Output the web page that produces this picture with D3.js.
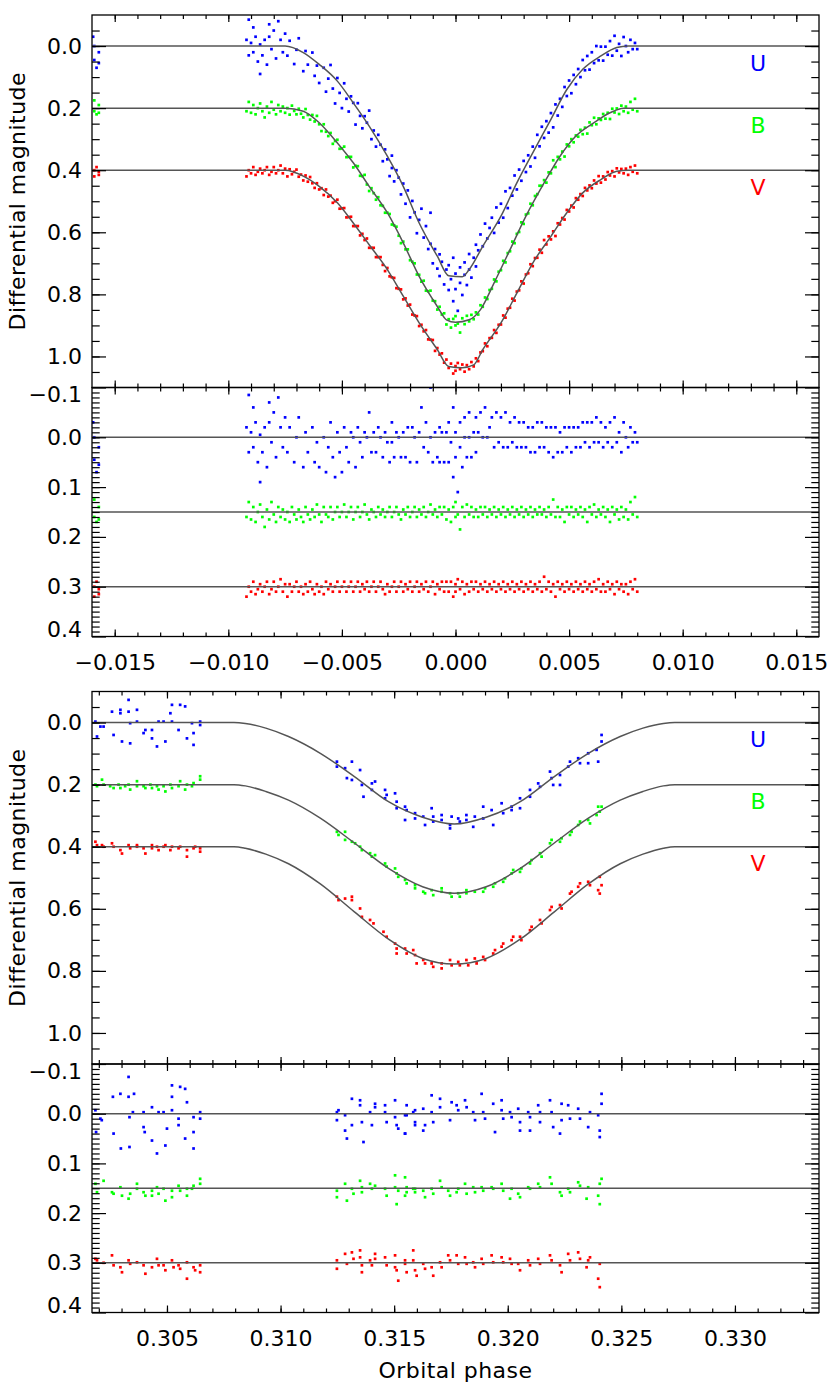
<!DOCTYPE html>
<html>
<head>
<meta charset="utf-8">
<script src="https://cdn.jsdelivr.net/npm/d3@7"></script>
<style>
  body { margin: 0; background: #fff; }
  text { font-family: "DejaVu Sans", sans-serif; }
</style>
</head>
<body>
<svg id="chart" width="830" height="1382"></svg>
<script>
// bands, colours and the offsets used to stack them
const bandNames = ["U", "B", "V"];
const bandColors = ["#0000ff", "#00ff00", "#ff0000"];
const lightOffsets = [0, 0.2, 0.4];
const residOffsets = [0, 0.15, 0.3];

// tick values
const topPhaseMajor = [-0.015, -0.010, -0.005, 0.000, 0.005, 0.010, 0.015];
const botPhaseMajor = [0.305, 0.310, 0.315, 0.320, 0.325, 0.330];
const magMajor = [0.0, 0.2, 0.4, 0.6, 0.8, 1.0];
const residMajor = [-0.1, 0.0, 0.1, 0.2, 0.3, 0.4];

// model light curves: [phase, mag]
const topModelU = [[-0.016,0],[-0.0075,0],[-0.0067,0.021],[-0.006,0.059],[-0.0052,0.113],[-0.0045,0.183],[-0.0038,0.258],[-0.003,0.355],[-0.0023,0.452],[-0.0016,0.57],[-0.0008,0.677],[-0.0003,0.74],[0.0003,0.743],[0.0006,0.72],[0.0012,0.645],[0.002,0.548],[0.0027,0.441],[0.0034,0.344],[0.0042,0.236],[0.0049,0.14],[0.0056,0.075],[0.0064,0.032],[0.0071,0.005],[0.0076,0],[0.016,0]];
const topModelB = [[-0.016,0.2],[-0.0075,0.2],[-0.0067,0.21],[-0.006,0.247],[-0.0052,0.312],[-0.0045,0.376],[-0.0038,0.452],[-0.003,0.537],[-0.0023,0.634],[-0.0016,0.742],[-0.0008,0.839],[-0.0004,0.882],[0,0.89],[0.0006,0.882],[0.0011,0.849],[0.0017,0.763],[0.0024,0.656],[0.0031,0.548],[0.0039,0.441],[0.0046,0.355],[0.0053,0.29],[0.0061,0.247],[0.0068,0.215],[0.0074,0.2],[0.016,0.2]];
const topModelV = [[-0.016,0.4],[-0.0075,0.4],[-0.0067,0.419],[-0.006,0.452],[-0.0052,0.505],[-0.0045,0.57],[-0.0038,0.64],[-0.003,0.72],[-0.0023,0.806],[-0.0016,0.892],[-0.0008,0.978],[-0.0003,1.032],[0.0003,1.036],[0.0008,1.027],[0.0012,0.978],[0.002,0.892],[0.0027,0.796],[0.0034,0.699],[0.0042,0.613],[0.0049,0.537],[0.0056,0.473],[0.0064,0.43],[0.0071,0.403],[0.0076,0.4],[0.016,0.4]];
const botModelU = [[0.3017,0],[0.30795,0],[0.30845,0.003],[0.30935,0.018],[0.31035,0.045],[0.31175,0.099],[0.31325,0.174],[0.31475,0.255],[0.31625,0.305],[0.31765,0.327],[0.31905,0.305],[0.32055,0.255],[0.32205,0.174],[0.32355,0.099],[0.32495,0.045],[0.32595,0.018],[0.32685,0.003],[0.32735,0],[0.3337,0]];
const botModelB = [[0.3017,0.2],[0.30795,0.2],[0.30845,0.204],[0.30935,0.222],[0.31035,0.25],[0.31175,0.308],[0.31325,0.388],[0.31475,0.47],[0.31625,0.529],[0.31765,0.55],[0.31905,0.529],[0.32055,0.47],[0.32205,0.388],[0.32355,0.308],[0.32495,0.25],[0.32595,0.222],[0.32685,0.204],[0.32735,0.2],[0.3337,0.2]];
const botModelV = [[0.3017,0.4],[0.30795,0.4],[0.30845,0.405],[0.30935,0.424],[0.31035,0.455],[0.31175,0.52],[0.31325,0.61],[0.31475,0.698],[0.31625,0.76],[0.31765,0.778],[0.31905,0.76],[0.32055,0.698],[0.32205,0.61],[0.32355,0.52],[0.32495,0.455],[0.32595,0.424],[0.32685,0.405],[0.32735,0.4],[0.3337,0.4]];

// primary eclipse observations: [phase, mag, residual]
const topU = [[-0.01595,-0.03,-0.03],[-0.0159,0,0],[-0.0159,0.045,0.045],[-0.0158,0.07,0.07],[-0.0157,0.02,0.02],[-0.0157,0.055,0.055],
[-0.0092,-0.02,-0.02],[-0.0091,0.03,0.03],[-0.0091,-0.085,-0.085],[-0.009,-0.01,-0.01],[-0.0089,0.02,0.02],[-0.0089,-0.06,-0.06],[-0.0088,-0.03,-0.03],[-0.0087,0.05,0.05],[-0.0086,-0.005,-0.005],[-0.0086,0.09,0.09],[-0.0085,0.03,0.03],[-0.0084,-0.02,-0.02],[-0.0083,0.06,0.06],[-0.0082,-0.07,-0.07],[-0.0082,-0.03,-0.03],[-0.0081,0.01,0.01],[-0.008,-0.05,-0.05],[-0.0079,0.04,0.04],[-0.0078,-0.08,-0.08],[-0.0077,-0.02,-0.02],[-0.0076,0.02,0.02],[-0.0075,-0.04,-0.04],
[-0.0074,0.031,0.03],[-0.0073,-0.017,-0.02],[-0.0071,0.058,0.05],[-0.007,0.012,0],[-0.0069,-0.025,-0.04],[-0.0067,0.081,0.06],[-0.0066,0.016,-0.01],[-0.0065,0.06,0.03],[-0.0063,0.021,-0.02],[-0.0062,0.096,0.05],[-0.0061,0.063,0.01],[-0.006,0.119,0.06],[-0.0058,0.07,0],[-0.0057,0.147,0.07],[-0.0056,0.105,0.02],[-0.0055,0.061,-0.03],[-0.0054,0.137,0.04],[-0.0053,0.185,0.08],[-0.0052,0.103,-0.01],[-0.0051,0.151,0.03],[-0.005,0.2,0.07],[-0.0049,0.12,-0.02],[-0.0048,0.17,0.02],[-0.0047,0.211,0.05],[-0.0046,0.162,-0.01],[-0.0045,0.183,0],[-0.0044,0.253,0.06],[-0.0043,0.184,-0.02],[-0.0042,0.225,0.01],[-0.0041,0.265,0.04],[-0.004,0.226,-0.01],[-0.0039,0.247,0],[-0.0038,0.208,-0.05],[-0.0037,0.3,0.03],[-0.0036,0.272,-0.01],[-0.0035,0.324,0.03],[-0.0034,0.286,-0.02],[-0.0033,0.318,0],[-0.0032,0.371,0.04],[-0.0031,0.333,-0.01],[-0.003,0.365,0.01],[-0.0029,0.419,0.05],[-0.0028,0.353,-0.03],[-0.0028,0.393,0.01],[-0.0027,0.436,0.04],[-0.0026,0.4,-0.01],[-0.0025,0.424,0],[-0.0024,0.478,0.04],[-0.0023,0.443,-0.01],[-0.0022,0.508,0.04],[-0.0021,0.465,-0.02],[-0.002,0.552,0.05],[-0.0019,0.499,-0.02],[-0.0018,0.536,0],[-0.0017,0.603,0.05],[-0.0016,0.56,-0.01],[-0.0015,0.524,-0.06],[-0.0014,0.617,0.02],[-0.0013,0.58,-0.03],[-0.0012,0.654,0.03],[-0.0011,0.537,-0.1],[-0.0011,0.637,0],[-0.001,0.7,0.05],[-0.0009,0.654,-0.01],[-0.0008,0.717,0.04],[-0.0007,0.671,-0.02],[-0.0007,0.741,0.05],[-0.0006,0.695,-0.01],[-0.0005,0.768,0.05],[-0.0004,0.72,-0.01],[-0.0003,0.786,0.05],[-0.0003,0.706,-0.03],[-0.0002,0.751,0.01],[-0.0001,0.822,0.08],[-0.0001,0.682,-0.06],[0,0.733,-0.01],[0,0.783,0.04],[0.0001,0.853,0.11],[0.0002,0.713,-0.03],[0.0002,0.763,0.02],[0.0003,0.802,0.06],[0.0004,0.697,-0.04],[0.0004,0.737,0],[0.0005,0.77,0.04],[0.0006,0.67,-0.05],[0.0006,0.72,0],[0.0007,0.746,0.04],[0.0008,0.682,-0.01],[0.0009,0.64,-0.04],[0.0009,0.71,0.03],[0.001,0.658,-0.01],[0.0011,0.607,-0.05],[0.0012,0.645,0],[0.0013,0.572,-0.06],[0.0014,0.62,0],[0.0015,0.586,-0.02],[0.0016,0.553,-0.04],[0.0017,0.602,0.02],[0.0018,0.52,-0.05],[0.0019,0.569,0.01],[0.002,0.508,-0.04],[0.0021,0.553,0.02],[0.0022,0.468,-0.05],[0.0023,0.522,0.02],[0.0024,0.457,-0.03],[0.0025,0.482,0.01],[0.0026,0.417,-0.04],[0.0027,0.462,0.02],[0.0028,0.398,-0.03],[0.0029,0.434,0.02],[0.003,0.37,-0.03],[0.0031,0.406,0.02],[0.0032,0.352,-0.02],[0.0033,0.388,0.03],[0.0034,0.324,-0.02],[0.0035,0.36,0.03],[0.0036,0.286,-0.03],[0.0037,0.323,0.02],[0.0038,0.26,-0.03],[0.0039,0.296,0.02],[0.004,0.242,-0.02],[0.0041,0.279,0.03],[0.0042,0.216,-0.02],[0.0043,0.262,0.04],[0.0044,0.188,-0.02],[0.0045,0.224,0.03],[0.0046,0.17,-0.01],[0.0047,0.196,0.03],[0.0048,0.132,-0.02],[0.0049,0.161,0.02],[0.005,0.111,-0.02],[0.0051,0.152,0.03],[0.0052,0.093,-0.02],[0.0053,0.123,0.02],[0.0054,0.074,-0.02],[0.0055,0.1,0.02],[0.0056,0.045,-0.03],[0.0057,0.078,0.01],[0.0058,0.032,-0.03],[0.0059,0.076,0.02],[0.006,0.02,-0.03],[0.0061,0.055,0.01],[0.0062,0,-0.04],[0.0063,0.046,0.01],[0.0064,0.002,-0.03],[0.0065,0.047,0.02],[0.0066,0.002,-0.02],[0.0067,0.028,0.01],[0.0068,-0.016,-0.03],[0.0069,0.031,0.02],[0.007,-0.033,-0.04],[0.0071,0.015,0.01],[0.0072,-0.007,-0.01],[0.0073,0.032,0.03],[0.0074,-0.029,-0.03],[0.0075,0,0],[0.0076,0.02,0.02],[0.0077,-0.02,-0.02],[0.0078,0.01,0.01],[0.0079,-0.01,-0.01],[0.008,0.01,0.01]];

const topB = [[-0.0159,0.175,-0.025],[-0.0159,0.21,0.01],[-0.0158,0.22,0.02],[-0.0157,0.19,-0.01],[-0.0157,0.215,0.015],
[-0.0092,0.21,0.01],[-0.0091,0.18,-0.02],[-0.009,0.215,0.015],[-0.0089,0.19,-0.01],[-0.0088,0.22,0.02],[-0.0087,0.2,0],[-0.0086,0.185,-0.015],[-0.0085,0.21,0.01],[-0.0084,0.23,0.03],[-0.0083,0.195,-0.005],[-0.0082,0.215,0.015],[-0.0081,0.18,-0.02],[-0.008,0.205,0.005],[-0.0079,0.22,0.02],[-0.0078,0.19,-0.01],[-0.0077,0.21,0.01],[-0.0076,0.195,-0.005],[-0.0075,0.215,0.015],[-0.0074,0.2,0],[-0.0073,0.221,0.02],[-0.0072,0.192,-0.01],[-0.0071,0.209,0.005],[-0.007,0.22,0.015],[-0.0069,0.202,-0.005],[-0.0068,0.218,0.01],[-0.0067,0.23,0.02],[-0.0066,0.203,-0.01],[-0.0065,0.222,0.005],[-0.0064,0.237,0.015],[-0.0063,0.222,-0.005],[-0.0062,0.243,0.01],[-0.0061,0.225,-0.015],[-0.006,0.252,0.005],[-0.0059,0.274,0.02],[-0.0058,0.252,-0.01],[-0.0057,0.276,0.005],[-0.0056,0.29,0.01],[-0.0055,0.28,-0.01],[-0.0054,0.315,0.015],[-0.0053,0.306,0],[-0.0052,0.302,-0.01],[-0.0051,0.331,0.01],[-0.005,0.33,0],[-0.0049,0.324,-0.015],[-0.0048,0.358,0.01],[-0.0047,0.357,0],[-0.0046,0.357,-0.01],[-0.0045,0.391,0.015],[-0.0044,0.386,0],[-0.0043,0.387,-0.01],[-0.0042,0.418,0.01],[-0.0041,0.419,0],[-0.004,0.415,-0.015],[-0.0039,0.446,0.005],[-0.0038,0.467,0.015],[-0.0037,0.458,-0.005],[-0.0036,0.474,0],[-0.0035,0.495,0.01],[-0.0034,0.487,-0.01],[-0.0033,0.513,0.005],[-0.0032,0.515,-0.005],[-0.0031,0.537,0.01],[-0.003,0.537,0],[-0.0029,0.541,-0.01],[-0.0028,0.575,0.01],[-0.0027,0.578,0],[-0.0026,0.582,-0.01],[-0.0025,0.611,0.005],[-0.0024,0.635,0.015],[-0.0023,0.63,-0.005],[-0.0022,0.655,0.005],[-0.0021,0.655,-0.01],[-0.002,0.69,0.01],[-0.0019,0.695,0],[-0.0018,0.7,-0.01],[-0.0017,0.736,0.01],[-0.0016,0.737,-0.005],[-0.0015,0.759,0.005],[-0.0014,0.756,-0.01],[-0.0013,0.788,0.01],[-0.0012,0.79,0],[-0.0011,0.788,-0.015],[-0.001,0.82,0.005],[-0.0009,0.822,-0.005],[-0.0008,0.849,0.01],[-0.0007,0.84,-0.01],[-0.0006,0.865,0.005],[-0.0005,0.861,-0.01],[-0.0004,0.897,0.015],[-0.0003,0.88,-0.005],[-0.0002,0.907,0.02],[-0.0001,0.879,-0.01],[0,0.9,0.01],[0,0.87,-0.02],[0.0001,0.894,0.005],[0.0002,0.923,0.035],[0.0003,0.877,-0.01],[0.0004,0.896,0.01],[0.0005,0.869,-0.015],[0.0006,0.887,0.005],[0.0007,0.866,-0.01],[0.0008,0.88,0.01],[0.0009,0.858,-0.005],[0.001,0.865,0.01],[0.0011,0.835,-0.01],[0.0012,0.84,0.005],[0.0013,0.81,-0.01],[0.0014,0.815,0.01],[0.0015,0.786,-0.005],[0.0016,0.782,0.005],[0.0017,0.752,-0.01],[0.0018,0.758,0.01],[0.0019,0.727,-0.005],[0.002,0.722,0.005],[0.0021,0.692,-0.01],[0.0022,0.697,0.01],[0.0023,0.667,-0.005],[0.0024,0.661,0.005],[0.0025,0.63,-0.01],[0.0026,0.635,0.01],[0.0027,0.605,-0.005],[0.0028,0.599,0.005],[0.0029,0.568,-0.01],[0.003,0.573,0.01],[0.0031,0.543,-0.005],[0.0032,0.539,0.005],[0.0033,0.508,-0.01],[0.0034,0.513,0.01],[0.0035,0.483,-0.005],[0.0036,0.477,0.005],[0.0037,0.45,-0.01],[0.0038,0.45,0.005],[0.0039,0.432,-0.005],[0.004,0.44,0.01],[0.0041,0.407,-0.01],[0.0042,0.41,0.005],[0.0043,0.368,-0.025],[0.0044,0.39,0.01],[0.0045,0.357,-0.01],[0.0046,0.365,0.01],[0.0047,0.34,-0.005],[0.0048,0.356,0.02],[0.0049,0.317,-0.01],[0.005,0.323,0.005],[0.0051,0.3,-0.01],[0.0052,0.31,0.01],[0.0053,0.288,-0.005],[0.0054,0.292,0.005],[0.0055,0.27,-0.01],[0.0056,0.284,0.01],[0.0057,0.263,-0.005],[0.0058,0.282,0.02],[0.0059,0.246,-0.01],[0.006,0.255,0.005],[0.0061,0.231,-0.015],[0.0062,0.252,0.01],[0.0063,0.233,-0.005],[0.0064,0.238,0.005],[0.0065,0.219,-0.01],[0.0066,0.234,0.01],[0.0067,0.215,-0.005],[0.0068,0.235,0.02],[0.0069,0.202,-0.01],[0.007,0.214,0.005],[0.0071,0.201,-0.005],[0.0072,0.219,0.015],[0.0073,0.192,-0.01],[0.0074,0.21,0.01],[0.0075,0.195,-0.005],[0.0076,0.215,0.015],[0.0077,0.18,-0.02],[0.0078,0.205,0.005],[0.0079,0.17,-0.03],[0.008,0.21,0.01]];

const topV = [[-0.0159,0.4,0],[-0.0159,0.42,0.02],[-0.0158,0.39,-0.01],[-0.0157,0.415,0.015],[-0.0157,0.405,0.005],
[-0.0092,0.42,0.02],[-0.0091,0.4,0],[-0.009,0.41,0.01],[-0.0089,0.39,-0.01],[-0.0088,0.415,0.015],[-0.0087,0.405,0.005],[-0.0086,0.395,-0.005],[-0.0085,0.41,0.01],[-0.0084,0.4,0],[-0.0083,0.39,-0.01],[-0.0082,0.415,0.015],[-0.0081,0.405,0.005],[-0.008,0.39,-0.01],[-0.0079,0.41,0.01],[-0.0078,0.4,0],[-0.0077,0.385,-0.015],[-0.0076,0.41,0.01],[-0.0075,0.395,-0.005],[-0.0074,0.42,0.02],[-0.0073,0.397,-0.005],[-0.0072,0.413,0.01],[-0.0071,0.405,0],[-0.007,0.398,-0.01],[-0.0069,0.421,0.01],[-0.0068,0.414,0],[-0.0067,0.433,0.015],[-0.0066,0.417,-0.005],[-0.0065,0.437,0.01],[-0.0064,0.422,-0.01],[-0.0063,0.442,0.005],[-0.0062,0.457,0.015],[-0.0061,0.442,-0.005],[-0.006,0.462,0.01],[-0.0059,0.458,0],[-0.0058,0.48,0.015],[-0.0057,0.462,-0.01],[-0.0056,0.485,0.005],[-0.0055,0.482,-0.005],[-0.0054,0.505,0.01],[-0.0053,0.5,0],[-0.0052,0.495,-0.01],[-0.0051,0.524,0.01],[-0.005,0.523,0],[-0.0049,0.522,-0.01],[-0.0048,0.552,0.01],[-0.0047,0.551,0],[-0.0046,0.55,-0.01],[-0.0045,0.58,0.01],[-0.0044,0.58,0],[-0.0043,0.58,-0.01],[-0.0042,0.61,0.01],[-0.0041,0.605,-0.005],[-0.004,0.625,0.005],[-0.0039,0.62,-0.01],[-0.0038,0.65,0.01],[-0.0037,0.65,0],[-0.0036,0.65,-0.01],[-0.0035,0.68,0.01],[-0.0034,0.68,0],[-0.0033,0.68,-0.01],[-0.0032,0.705,0.005],[-0.0031,0.725,0.015],[-0.003,0.715,-0.005],[-0.0029,0.742,0.01],[-0.0028,0.745,0],[-0.0027,0.747,-0.01],[-0.0026,0.78,0.01],[-0.0025,0.782,0],[-0.0024,0.784,-0.01],[-0.0023,0.816,0.01],[-0.0022,0.813,-0.005],[-0.0021,0.836,0.005],[-0.002,0.833,-0.01],[-0.0019,0.865,0.01],[-0.0018,0.868,0],[-0.0017,0.87,-0.01],[-0.0016,0.902,0.01],[-0.0015,0.898,-0.005],[-0.0014,0.919,0.005],[-0.0013,0.915,-0.01],[-0.0012,0.945,0.01],[-0.0011,0.946,0],[-0.001,0.947,-0.01],[-0.0009,0.982,0.015],[-0.0008,0.973,-0.005],[-0.0007,0.994,0.005],[-0.0006,0.99,-0.01],[-0.0005,1.02,0.01],[-0.0004,1.01,-0.01],[-0.0003,1.037,0.01],[-0.0002,1.023,-0.01],[-0.0001,1.055,0.02],[0,1.031,-0.005],[0,1.046,0.01],[0.0001,1.021,-0.015],[0.0002,1.041,0.005],[0.0003,1.026,-0.01],[0.0004,1.049,0.015],[0.0005,1.028,-0.005],[0.0006,1.041,0.01],[0.0007,1.018,-0.01],[0.0008,1.032,0.005],[0.0009,1.006,-0.01],[0.001,1.015,0.01],[0.0011,0.987,-0.005],[0.0012,0.983,0.005],[0.0013,0.958,-0.01],[0.0014,0.967,0.01],[0.0015,0.941,-0.005],[0.0016,0.94,0.005],[0.0017,0.915,-0.01],[0.0018,0.924,0.01],[0.0019,0.898,-0.005],[0.002,0.897,0.005],[0.0021,0.868,-0.01],[0.0022,0.875,0.01],[0.0023,0.846,-0.005],[0.0024,0.843,0.005],[0.0025,0.814,-0.01],[0.0026,0.82,0.01],[0.0027,0.791,-0.005],[0.0028,0.787,0.005],[0.0029,0.758,-0.01],[0.003,0.765,0.01],[0.0031,0.736,-0.005],[0.0032,0.732,0.005],[0.0033,0.703,-0.01],[0.0034,0.709,0.01],[0.0035,0.683,-0.005],[0.0036,0.682,0.005],[0.0037,0.656,-0.01],[0.0038,0.666,0.01],[0.0039,0.625,-0.02],[0.004,0.639,0.005],[0.0041,0.613,-0.01],[0.0042,0.623,0.01],[0.0043,0.597,-0.005],[0.0044,0.612,0.02],[0.0045,0.571,-0.01],[0.0046,0.575,0.005],[0.0047,0.554,-0.005],[0.0048,0.559,0.01],[0.0049,0.528,-0.01],[0.005,0.533,0.005],[0.0051,0.514,-0.005],[0.0052,0.52,0.01],[0.0053,0.49,-0.01],[0.0054,0.495,0.005],[0.0055,0.477,-0.005],[0.0056,0.483,0.01],[0.0057,0.457,-0.01],[0.0058,0.465,0.005],[0.0059,0.449,-0.005],[0.006,0.458,0.01],[0.0061,0.433,-0.01],[0.0062,0.443,0.005],[0.0063,0.419,-0.015],[0.0064,0.44,0.01],[0.0065,0.42,-0.005],[0.0066,0.43,0.01],[0.0067,0.406,-0.01],[0.0068,0.417,0.005],[0.0069,0.403,-0.005],[0.007,0.42,0.015],[0.0071,0.394,-0.01],[0.0072,0.407,0.005],[0.0073,0.396,-0.005],[0.0074,0.41,0.01],[0.0075,0.395,-0.005],[0.0076,0.415,0.015],[0.0077,0.39,-0.01],[0.0078,0.405,0.005],[0.0079,0.385,-0.015],[0.008,0.41,0.01]];

// secondary eclipse observations: [phase, mag]
const botU = [[0.30185,-0.003],[0.30192,0.045],[0.30207,0.013],[0.30221,0.013],[0.30258,-0.035],[0.30265,0.04],[0.30295,-0.041],[0.30295,-0.03],[0.30302,0.061],[0.30331,-0.073],[0.30331,-0.035],[0.30338,0.002],[0.30338,0.067],[0.30368,-0.003],[0.30368,-0.041],[0.30397,0.034],[0.30405,0.024],[0.30434,0.051],[0.30434,0.024],[0.30456,0.077],[0.30463,-0.003],[0.30485,-0.003],[0.30493,0.061],[0.30515,-0.03],[0.30522,-0.057],[0.30522,-0.003],[0.30551,0.024],[0.30558,-0.057],[0.3058,-0.052],[0.30588,0.051],[0.3061,0.002],[0.30617,0.034],[0.30617,0.072],[0.30646,-0.003],[0.30646,0.008],
[0.31248,0.126],[0.31248,0.142],[0.31284,0.147],[0.31314,0.126],[0.31292,0.179],[0.31314,0.185],[0.3135,0.153],[0.31358,0.201],[0.31365,0.239],[0.31402,0.196],[0.31402,0.217],[0.31416,0.19],[0.3146,0.217],[0.31467,0.233],[0.3146,0.244],[0.31504,0.228],[0.31511,0.255],[0.31511,0.276],[0.31548,0.271],[0.31555,0.282],[0.31548,0.314],[0.31592,0.292],[0.31592,0.309],[0.31628,0.303],[0.31636,0.33],[0.31665,0.276],[0.31672,0.303],[0.31672,0.319],[0.31709,0.298],[0.31709,0.314],[0.31746,0.33],[0.31746,0.341],[0.31753,0.303],[0.31782,0.309],[0.31789,0.319],[0.31818,0.298],[0.31818,0.314],[0.31848,0.336],[0.31855,0.303],[0.31892,0.271],[0.31892,0.309],[0.31929,0.282],[0.31936,0.33],[0.31973,0.26],[0.3198,0.292],[0.32017,0.271],[0.32017,0.282],[0.32054,0.244],[0.32054,0.276],[0.32098,0.239],[0.32098,0.217],[0.32134,0.196],[0.32142,0.207],[0.32186,0.158],[0.32193,0.179],[0.322,0.201],[0.3223,0.169],[0.3223,0.201],[0.32266,0.142],[0.32274,0.126],[0.3231,0.115],[0.32318,0.131],[0.32354,0.099],[0.32354,0.131],[0.32391,0.088],[0.32398,0.126],[0.32413,0.04],[0.32413,0.061]];
const botB = [[0.30185,0.2],[0.30192,0.205],[0.30214,0.184],[0.30221,0.2],[0.3025,0.205],[0.30265,0.211],[0.30287,0.2],[0.30295,0.211],[0.30316,0.205],[0.30331,0.2],[0.30338,0.216],[0.30368,0.189],[0.30368,0.205],[0.30397,0.205],[0.30405,0.211],[0.30427,0.2],[0.30434,0.211],[0.30456,0.205],[0.30463,0.216],[0.30485,0.205],[0.30493,0.222],[0.30515,0.2],[0.30522,0.211],[0.30551,0.205],[0.30558,0.189],[0.3058,0.216],[0.30588,0.2],[0.3061,0.205],[0.30617,0.195],[0.30646,0.173],[0.30646,0.184],
[0.31248,0.352],[0.31255,0.362],[0.31284,0.352],[0.31284,0.378],[0.31314,0.384],[0.31328,0.389],[0.3135,0.4],[0.31358,0.411],[0.31394,0.421],[0.31402,0.432],[0.31416,0.427],[0.3146,0.454],[0.31467,0.464],[0.31504,0.47],[0.31511,0.486],[0.31518,0.497],[0.31548,0.507],[0.31555,0.518],[0.31592,0.524],[0.31592,0.534],[0.31628,0.545],[0.31636,0.55],[0.31665,0.54],[0.31672,0.556],[0.31709,0.545],[0.31709,0.534],[0.31746,0.55],[0.31753,0.561],[0.31782,0.55],[0.31789,0.561],[0.31818,0.55],[0.31818,0.54],[0.31855,0.545],[0.31892,0.545],[0.319,0.534],[0.31936,0.529],[0.31944,0.518],[0.3198,0.513],[0.31988,0.502],[0.32017,0.486],[0.32024,0.475],[0.32054,0.481],[0.3206,0.47],[0.32098,0.454],[0.32105,0.443],[0.32142,0.421],[0.32149,0.432],[0.32186,0.389],[0.32193,0.378],[0.3223,0.384],[0.32237,0.373],[0.32274,0.362],[0.32281,0.352],[0.3231,0.33],[0.32318,0.319],[0.32354,0.314],[0.32362,0.325],[0.32391,0.298],[0.32398,0.271],[0.32405,0.287],[0.32413,0.271]];
const botV = [[0.30185,0.384],[0.30192,0.395],[0.30214,0.395],[0.30221,0.4],[0.30258,0.389],[0.30265,0.4],[0.30295,0.411],[0.30302,0.422],[0.30331,0.395],[0.30338,0.405],[0.30368,0.395],[0.30368,0.4],[0.30397,0.405],[0.30405,0.422],[0.30434,0.405],[0.30434,0.395],[0.30456,0.4],[0.30463,0.411],[0.30485,0.4],[0.30493,0.395],[0.30515,0.411],[0.30522,0.4],[0.30551,0.405],[0.30558,0.4],[0.30588,0.411],[0.30588,0.432],[0.30617,0.405],[0.30624,0.4],[0.30646,0.416],[0.30646,0.405],
[0.31248,0.561],[0.31255,0.572],[0.31284,0.567],[0.31314,0.561],[0.31314,0.572],[0.3135,0.599],[0.31358,0.626],[0.31394,0.636],[0.31409,0.647],[0.31453,0.674],[0.31467,0.69],[0.31504,0.712],[0.31511,0.728],[0.31511,0.744],[0.31548,0.728],[0.31555,0.744],[0.31584,0.733],[0.31592,0.749],[0.31599,0.776],[0.31628,0.765],[0.31636,0.776],[0.31665,0.776],[0.31672,0.787],[0.31709,0.776],[0.31709,0.792],[0.31746,0.765],[0.31753,0.782],[0.31782,0.771],[0.31789,0.782],[0.31818,0.765],[0.31826,0.782],[0.31855,0.76],[0.31863,0.776],[0.31892,0.755],[0.319,0.765],[0.31936,0.744],[0.31944,0.733],[0.31973,0.722],[0.3198,0.712],[0.32017,0.701],[0.32024,0.69],[0.32054,0.69],[0.3206,0.701],[0.32098,0.669],[0.32105,0.658],[0.32142,0.636],[0.32149,0.647],[0.32186,0.604],[0.32193,0.594],[0.3223,0.588],[0.32237,0.599],[0.32274,0.551],[0.32281,0.545],[0.3231,0.529],[0.32318,0.518],[0.32354,0.513],[0.32362,0.524],[0.32398,0.54],[0.32405,0.497],[0.32413,0.524],[0.32405,0.551]];

// secondary eclipse residuals: [phase, O-C]
const botUres = [[0.30185,-0.007],[0.30188,0.037],[0.30207,0.01],[0.30213,0.013],[0.30265,0.04],[0.30262,-0.034],[0.30295,-0.04],[0.30297,0.07],[0.30331,-0.074],[0.30331,-0.034],[0.30335,0.007],[0.30335,0.067],[0.3035,-0.003],[0.30355,-0.04],[0.30397,-0.003],[0.30397,0.027],[0.30402,0.037],[0.30434,-0.013],[0.30434,0.054],[0.30456,0.08],[0.30463,-0.003],[0.30485,-0.003],[0.30493,0.064],[0.305,0.03],[0.30522,-0.057],[0.30522,-0.034],[0.30522,-0.007],[0.30551,0.01],[0.30551,0.023],[0.30558,-0.054],[0.3058,-0.05],[0.30588,-0.023],[0.3058,0.05],[0.30617,0.007],[0.30617,0.037],[0.30617,0.07],[0.30646,-0.003],[0.30646,0.01],
[0.31248,-0.003],[0.31248,0.013],[0.31255,-0.007],[0.31284,0.003],[0.31284,0.034],[0.31292,0.05],[0.31314,-0.03],[0.31314,0.023],[0.3135,-0.027],[0.3135,-0.017],[0.31358,0.017],[0.31365,0.057],[0.31394,-0.003],[0.31402,0.023],[0.31416,-0.02],[0.31416,-0.013],[0.3146,-0.017],[0.3146,-0.003],[0.31467,0.017],[0.31504,-0.027],[0.31504,0.007],[0.31511,0.023],[0.31518,0.03],[0.31548,0.04],[0.31555,-0.017],[0.31555,0.003],[0.31592,-0.007],[0.31592,0.023],
[0.31548,0.003],[0.31548,0.04],[0.31584,-0.003],[0.31592,0.017],[0.31628,-0.01],[0.31628,0.034],[0.31636,0.023],[0.31665,-0.003],[0.31665,-0.037],[0.31672,0.017],[0.31702,-0.03],[0.31702,-0.013],[0.31746,0.013],[0.31753,-0.023],[0.31775,-0.017],[0.31782,-0.007],[0.31812,-0.027],[0.31819,-0.013],[0.31848,-0.003],[0.31856,0.013],[0.31885,-0.04],[0.31892,-0.003],[0.319,0.01],[0.31936,-0.02],[0.31944,0.037],[0.31973,-0.027],[0.31973,-0.007],[0.3198,0.01],[0.3201,-0.003],[0.32017,0.007],[0.32046,-0.01],[0.32054,0.017],[0.32054,0.034],[0.3209,-0.003],[0.32098,0.007],[0.32098,0.034],[0.32134,-0.017],[0.32142,-0.003],[0.32142,0.017],[0.32186,-0.027],[0.32193,-0.003],[0.322,0.027],[0.3223,0.04],[0.32237,-0.02],[0.32237,0.013],[0.32266,-0.017],[0.32274,0.01],[0.3231,-0.01],[0.32318,0.01],[0.32354,0.027],[0.32362,-0.003],[0.32398,0.003],[0.32405,0.047],[0.32405,0.034],[0.32413,-0.04],[0.32413,-0.02]];
const botBres = [[0.30185,-0.009],[0.30192,0.008],[0.30221,-0.015],[0.30258,0.008],[0.30265,0.011],[0.30295,-0.002],[0.30302,0.015],[0.30331,0.021],[0.30338,0.011],[0.30368,-0.009],[0.30368,0.001],[0.30397,0.008],[0.30405,0.015],[0.30434,0.005],[0.30434,0.015],[0.30456,-0.002],[0.30463,0.011],[0.30485,0.001],[0.30493,0.025],[0.30522,0.005],[0.30522,0.018],[0.30551,-0.005],[0.30558,0.005],[0.30588,0.015],[0.30588,0.001],[0.3061,0.001],[0.30617,-0.005],[0.30646,-0.019],[0.30646,-0.009],
[0.31248,0.005],[0.31248,0.018],[0.31284,-0.009],[0.31292,0.025],[0.31314,0.001],[0.31321,0.011],[0.3135,-0.015],[0.31358,-0.002],[0.31358,0.008],[0.31394,-0.009],[0.31402,0.001],[0.31416,-0.005],[0.3146,0.001],[0.31467,0.015],[0.31504,-0.026],[0.31504,-0.002],[0.31511,0.032],[0.31518,0.005],[0.31548,-0.022],[0.31555,-0.002],[0.31555,0.008],[0.31592,0.001],
[0.31548,0.015],[0.31584,0.001],[0.31592,0.008],[0.31628,0.005],[0.31636,0.018],[0.31665,0.001],[0.31672,0.011],[0.31702,-0.015],[0.31709,-0.002],[0.31738,0.005],[0.31746,0.015],[0.31775,0.008],[0.31782,0.001],[0.31812,-0.009],[0.31819,0.011],[0.31848,-0.002],[0.31856,0.008],[0.31885,-0.002],[0.31892,0.005],[0.31929,-0.002],[0.31936,0.001],[0.31973,-0.009],[0.3198,0.005],[0.3201,0.021],[0.32017,0.001],[0.32046,0.011],[0.32054,0.018],[0.3209,-0.002],[0.32098,0.001],[0.32134,-0.009],[0.32142,-0.002],[0.32186,-0.022],[0.32193,-0.009],[0.3223,0.008],[0.32237,0.015],[0.32266,0.001],[0.32274,0.008],[0.3231,-0.012],[0.32318,-0.005],[0.32347,0.021],[0.32354,-0.002],[0.32398,0.015],[0.32405,0.032],[0.32405,-0.009],[0.32413,-0.019]];
const botVres = [[0.30185,-0.008],[0.30192,-0.005],[0.30221,0],[0.30258,-0.015],[0.30265,0.005],[0.30295,0.009],[0.30302,0.019],[0.30331,-0.005],[0.30338,0.002],[0.30368,-0.001],[0.30397,0.005],[0.30405,0.022],[0.30434,0.009],[0.30456,-0.008],[0.30463,0.005],[0.30485,0.005],[0.30493,0.015],[0.30522,-0.005],[0.30529,0.009],[0.30551,0.005],[0.30558,0.012],[0.30588,-0.001],[0.30588,0.032],[0.30617,0.009],[0.30624,0.015],[0.30646,0.005],[0.30646,0.019],
[0.31248,-0.005],[0.31248,0.012],[0.31284,-0.018],[0.31292,0.002],[0.31314,-0.021],[0.31321,-0.008],[0.3135,-0.025],[0.3135,-0.011],[0.31358,0.005],[0.31358,0.019],[0.31394,-0.005],[0.31402,0.005],[0.31416,-0.018],[0.31416,-0.008],[0.3146,-0.011],[0.31467,0.005],[0.31504,-0.015],[0.31504,0.009],[0.31511,0.015],[0.31518,0.036],[0.31548,-0.005],[0.31555,0.019],[0.31584,-0.025],[0.31592,0.015],[0.31599,0.026],
[0.31548,0.002],[0.31584,-0.005],[0.31628,0.002],[0.31636,0.012],[0.31665,0.009],[0.31672,0.026],[0.31702,-0.001],[0.31709,0.009],[0.31738,-0.015],[0.31746,-0.005],[0.31775,-0.015],[0.31782,0.002],[0.31812,-0.011],[0.31819,0.002],[0.31848,-0.001],[0.31856,0.009],[0.31885,-0.008],[0.31892,0.002],[0.31929,-0.015],[0.31936,-0.001],[0.31973,-0.011],[0.3198,-0.001],[0.3201,-0.008],[0.32017,0.002],[0.32046,0.002],[0.32054,0.015],[0.3209,-0.005],[0.32098,0.005],[0.32134,-0.008],[0.32142,0.002],[0.32186,-0.015],[0.32193,-0.005],[0.3223,0.005],[0.32237,0.019],[0.32266,-0.018],[0.32274,-0.005],[0.3231,-0.021],[0.32318,-0.008],[0.32347,0.009],[0.32354,-0.005],[0.32362,-0.011],[0.32398,0.032],[0.32405,0.049],[0.32405,0.002]];

// ---------------------------------------------------------------
const svg = d3.select("#chart");
const L = 92, R = 819;
const FS = 22;

const xTop = d3.scaleLinear().domain([-0.016, 0.016]).range([L, R]);
const xBot = d3.scaleLinear().domain([0.3017, 0.3337]).range([L, R]);
const yTopLight = d3.scaleLinear().domain([-0.1, 1.1]).range([15, 387.5]);
const yTopRes = d3.scaleLinear().domain([-0.1, 0.4]).range([387.5, 636.5]);
const yBotLight = d3.scaleLinear().domain([-0.1, 1.1]).range([691.5, 1064]);
const yBotRes = d3.scaleLinear().domain([-0.1, 0.4]).range([1064, 1312.5]);

const magMinor = d3.range(-1, 22).map(i => +(i * 0.05).toFixed(2));
const residMinor = d3.range(-9, 40).map(i => i / 100);
const topPhaseMinor = d3.range(-15, 16).map(i => i / 1000);
const botPhaseMinor = d3.range(302, 334).map(i => i / 1000);

function drawData(x, y, series, offsets, models, clipId) {
  svg.append("clipPath").attr("id", clipId).append("rect")
    .attr("x", L).attr("y", y.range()[0])
    .attr("width", R - L).attr("height", y.range()[1] - y.range()[0]);
  const g = svg.append("g").attr("clip-path", `url(#${clipId})`);
  series.forEach((pts, i) => {
    g.append("g").attr("fill", bandColors[i])
      .selectAll("rect").data(pts).join("rect")
      .attr("x", d => x(d[0]) - 1.35)
      .attr("y", d => y(d[1] + offsets[i]) - 1.35)
      .attr("width", 2.7).attr("height", 2.7);
  });
  const line = d3.line().x(d => x(d[0])).y(d => y(d[1])).curve(d3.curveMonotoneX);
  g.selectAll("path.model").data(models).join("path")
    .attr("class", "model").attr("d", line)
    .attr("fill", "none").attr("stroke", "#555").attr("stroke-width", 1.5);
}

function ticks(axis, tx, ty, vals, len) {
  svg.append("g").attr("transform", `translate(${tx},${ty})`)
    .call(axis.tickValues(vals).tickSize(-len).tickFormat(""))
    .call(s => s.select(".domain").remove())
    .attr("color", "#000")
    .selectAll("line").attr("stroke-width", 1.2);
}

function frame(x, y, xMajor, xMinor, yMajor, yMinor, yMinorLen) {
  const [y0, y1] = y.range();
  ticks(d3.axisTop(x), 0, y0, xMinor, 4);
  ticks(d3.axisTop(x), 0, y0, xMajor, 7);
  ticks(d3.axisBottom(x), 0, y1, xMinor, 4);
  ticks(d3.axisBottom(x), 0, y1, xMajor, 7);
  ticks(d3.axisLeft(y), L, 0, yMinor, yMinorLen);
  ticks(d3.axisLeft(y), L, 0, yMajor, 14);
  ticks(d3.axisRight(y), R, 0, yMinor, yMinorLen);
  ticks(d3.axisRight(y), R, 0, yMajor, 14);
  svg.append("rect").attr("x", L).attr("y", y0)
    .attr("width", R - L).attr("height", y1 - y0)
    .attr("fill", "none").attr("stroke", "#000").attr("stroke-width", 1.3);
}

function yLabels(y, vals, nudgeEdges) {
  const g = svg.append("g").attr("transform", `translate(${L},0)`)
    .call(d3.axisLeft(y).tickValues(vals).tickSize(0).tickPadding(10).tickFormat(d3.format(".1f")))
    .call(s => { s.select(".domain").remove(); s.selectAll("line").remove(); })
    .attr("font-size", FS).attr("font-family", null).attr("color", "#000");
  if (nudgeEdges) {
    g.selectAll("text").filter(d => d === vals[0]).attr("y", 7);
    g.selectAll("text").filter(d => d === vals[vals.length - 1]).attr("y", -7);
  }
}

function xLabels(x, y, vals) {
  svg.append("g").attr("transform", `translate(0,${y.range()[1]})`)
    .call(d3.axisBottom(x).tickValues(vals).tickSize(0).tickPadding(18).tickFormat(d3.format(".3f")))
    .call(s => { s.select(".domain").remove(); s.selectAll("line").remove(); })
    .attr("font-size", FS).attr("font-family", null).attr("color", "#000");
}

function yTitle(y) {
  const [a, b] = y.range();
  svg.append("text")
    .attr("transform", `translate(25,${(a + b) / 2}) rotate(-90)`)
    .attr("text-anchor", "middle").attr("font-size", FS)
    .attr("letter-spacing", 0.45)
    .text("Differential magnitude");
}

function bandLabels(y) {
  svg.append("g").selectAll("text").data(bandNames).join("text")
    .attr("x", R - 61)
    .attr("y", (d, i) => y(lightOffsets[i] + 0.055))
    .attr("text-anchor", "middle").attr("dominant-baseline", "central")
    .attr("font-size", FS).attr("fill", (d, i) => bandColors[i])
    .text(d => d);
}

function flatLines(x) {
  return residOffsets.map(o => [[x.domain()[0], o], [x.domain()[1], o]]);
}

// primary eclipse
const topSets = [topU, topB, topV];
drawData(xTop, yTopLight, topSets.map(s => s.map(d => [d[0], d[1]])), [0, 0, 0],
  [topModelU, topModelB, topModelV], "c1");
drawData(xTop, yTopRes, topSets.map(s => s.map(d => [d[0], d[2]])), residOffsets,
  flatLines(xTop), "c2");
frame(xTop, yTopLight, topPhaseMajor, topPhaseMinor, magMajor, magMinor, 7.7);
frame(xTop, yTopRes, topPhaseMajor, topPhaseMinor, residMajor, residMinor, 7.7);
yLabels(yTopLight, magMajor, false);
yLabels(yTopRes, residMajor, true);
xLabels(xTop, yTopRes, topPhaseMajor);
yTitle(yTopLight);
bandLabels(yTopLight);

// secondary eclipse
drawData(xBot, yBotLight, [botU, botB, botV], [0, 0, 0],
  [botModelU, botModelB, botModelV], "c3");
drawData(xBot, yBotRes, [botUres, botBres, botVres], residOffsets,
  flatLines(xBot), "c4");
frame(xBot, yBotLight, botPhaseMajor, botPhaseMinor, magMajor, magMinor, 7.7);
frame(xBot, yBotRes, botPhaseMajor, botPhaseMinor, residMajor, residMinor, 7.7);
yLabels(yBotLight, magMajor, false);
yLabels(yBotRes, residMajor, true);
xLabels(xBot, yBotRes, botPhaseMajor);
yTitle(yBotLight);
bandLabels(yBotLight);

svg.append("text")
  .attr("x", (L + R) / 2).attr("y", 1378)
  .attr("text-anchor", "middle").attr("font-size", FS)
  .attr("letter-spacing", 0.45)
  .text("Orbital phase");
</script>
</body>
</html>
